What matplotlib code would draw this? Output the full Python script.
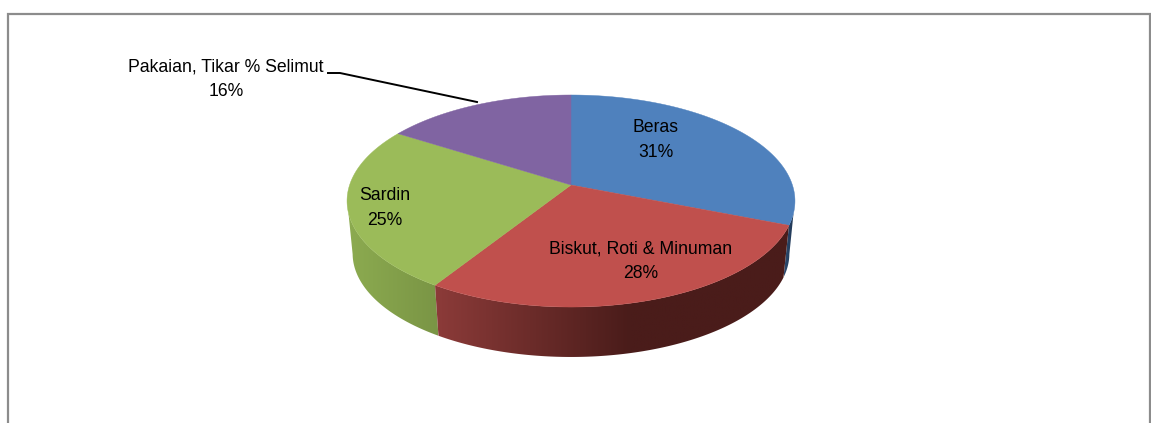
import numpy as np
import matplotlib
matplotlib.use("Agg")
import matplotlib.pyplot as plt
from matplotlib.patches import Polygon

categories = ["Beras", "Biskut, Roti & Minuman", "Sardin", "Pakaian, Tikar % Selimut"]
shares = [31, 28, 25, 16]

top_colors = ["#4f81bd", "#c0504d", "#9bbb59", "#8064a2"]
side_left = ["#2c4a70", "#8c3b39", "#8cab50", "#5c4875"]
side_right = ["#1f3550", "#4a1c1a", "#7a9545", "#5c4875"]
side_ramp = [1.0, 0.55, 1.0, 1.0]

plt.rcParams["font.family"] = ["Liberation Sans"]

# pie is drawn in pixel coords, tilted with a bit of perspective
cx, cy = 571, 185
rx, ry = 221.4, 103.6
persp = 0.151


def rim(theta, scale=1.0, dy=0.0):
    sx = np.sin(theta)
    sy = np.cos(theta)
    w = 1 + persp * sy
    return cx + scale * rx * sx / w, cy + dy - scale * ry * sy / w


def mix(c1, c2, t):
    a = np.array(matplotlib.colors.to_rgb(c1))
    b = np.array(matplotlib.colors.to_rgb(c2))
    return a + (b - a) * t


fig = plt.figure(figsize=(11.51, 4.23), dpi=100)
ax = fig.add_axes([0, 0, 1, 1])
ax.axis("off")

# frame, open at the bottom
ax.plot([8, 8, 1150, 1150], [423, 14, 14, 423], color="#8c8c8c", lw=1.6, solid_joinstyle="miter")

edges = np.cumsum([0] + shares) / sum(shares) * 2 * np.pi

# where the walls leave the top and bottom rims
top_from, top_to = np.radians(105), np.radians(255)
bot_from, bot_to = np.radians(99), np.radians(261)

# side walls first, gradient image clipped to the wall shape
for i in [0, 2, 1]:
    t_top = np.linspace(max(edges[i], top_from), min(edges[i + 1], top_to), 200)
    t_bot = np.linspace(max(edges[i], bot_from), min(edges[i + 1], bot_to), 200)
    xt, yt = rim(t_top)
    xb, yb = rim(t_bot, 0.975, 53)
    pts = np.c_[np.r_[xt, xb[::-1]], np.r_[yt, yb[::-1]]]
    x_lo, x_hi = pts[:, 0].min(), pts[:, 0].max()
    ramp = np.clip(np.linspace(0, 1, 256) / side_ramp[i], 0, 1)
    grad = np.array([[mix(side_left[i], side_right[i], f) for f in ramp]])
    im = ax.imshow(grad, extent=[x_lo, x_hi, pts[:, 1].max(), pts[:, 1].min()],
                   aspect="auto", zorder=2, interpolation="bilinear")
    wall = Polygon(pts, closed=True, transform=ax.transData, facecolor="none", edgecolor="none")
    ax.add_patch(wall)
    im.set_clip_path(wall)

# top face
for i in range(len(shares)):
    t = np.linspace(edges[i], edges[i + 1], 200)
    xt, yt = rim(t)
    ax.fill(np.r_[cx, xt], np.r_[cy, yt], color=top_colors[i], lw=0.3, zorder=3)

# labels
fs = 12.7
ls = 1.6
ax.text(656, 140, "Beras\n31%", ha="center", va="center", fontsize=fs, color="black", zorder=5, linespacing=ls)
ax.text(641, 261, "Biskut, Roti & Minuman\n28%", ha="center", va="center", fontsize=fs, color="black", zorder=5, linespacing=ls)
ax.text(385, 208, "Sardin\n25%", ha="center", va="center", fontsize=fs, color="black", zorder=5, linespacing=ls)
ax.text(226, 79, "Pakaian, Tikar % Selimut\n16%", ha="center", va="center", fontsize=fs, color="black", zorder=5, linespacing=ls)

# leader line
ax.plot([328, 340, 477], [73, 73, 102], color="black", lw=1.4, zorder=4)

ax.set_xlim(0, 1151)
ax.set_ylim(423, 0)
fig.savefig("out.png", dpi=100)
